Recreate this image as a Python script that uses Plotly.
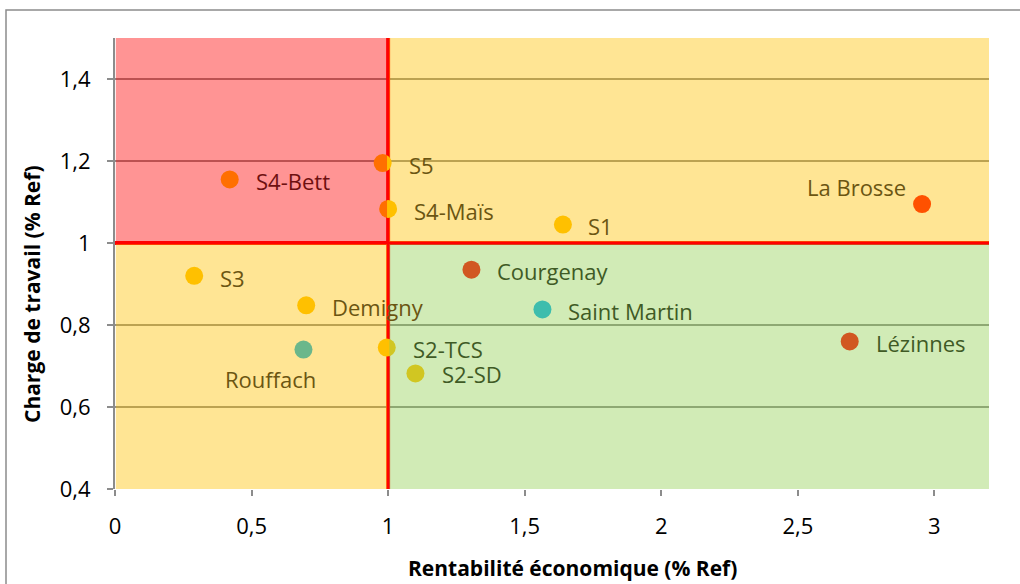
import plotly.graph_objects as go

# ---- data ----
names = ["S4-Bett", "S5", "S4-Maïs", "S1", "La Brosse", "S3", "Courgenay",
         "Demigny", "Saint Martin", "Rouffach", "S2-TCS", "S2-SD", "Lézinnes"]
rentabilite = [0.42, 0.98, 1.00, 1.64, 2.955, 0.29, 1.305,
               0.70, 1.565, 0.69, 0.995, 1.10, 2.69]
charge = [1.155, 1.195, 1.083, 1.045, 1.095, 0.92, 0.935,
          0.848, 0.838, 0.74, 0.745, 0.682, 0.76]
point_colors = ["#FFC000", "#FFC000", "#FFC000", "#FFC000", "#FF0000", "#FFC000", "#FF0000",
                "#FFC000", "#00B0F0", "#00B0F0", "#FFC000", "#FFC000", "#FF0000"]
# label placement (pixel offsets from marker centre)
label_anchor = ["left", "left", "left", "left", "right", "left", "left",
                "left", "left", "center", "left", "left", "left"]
label_dx = [24, 24, 24, 23, -14, 24, 24, 24, 24, -33, 24, 25, 24]
label_dy = [-2, -2, -2, -1, 17, -2, -1, -2, -2, -29, -1, -1, -2]

x_ticks = [0, 0.5, 1, 1.5, 2, 2.5, 3]
y_ticks = [0.4, 0.6, 0.8, 1, 1.2, 1.4]
x_range = [0, 3.2]
y_range = [0.4, 1.5]
seuil = 1.0

FONT = "Open Sans"

fig = go.Figure()
fig.add_trace(go.Scatter(
    x=rentabilite, y=charge, mode="markers",
    marker=dict(size=18, color=point_colors, line=dict(width=0)),
    hoverinfo="text", text=names, showlegend=False,
))

# overlay quadrants (drawn above the points, semi-transparent)
g = 0.004
quads = [
    (x_range[0] + 0.003, seuil - g, seuil + g * 0.75, y_range[1], "rgb(255,0,0)"),
    (seuil + g, x_range[1], seuil + g * 0.75, y_range[1], "rgb(255,192,0)"),
    (x_range[0] + 0.003, seuil - g, y_range[0], seuil - g * 0.75, "rgb(255,192,0)"),
    (seuil + g, x_range[1], y_range[0], seuil - g * 0.75, "rgb(146,208,80)"),
]
shapes = []
# red threshold lines (below points)
shapes.append(dict(type="line", xref="x", yref="y", x0=seuil, x1=seuil,
                   y0=y_range[0], y1=y_range[1], layer="between",
                   line=dict(color="#FF0000", width=4)))
shapes.append(dict(type="line", xref="x", yref="y", x0=x_range[0], x1=x_range[1],
                   y0=seuil, y1=seuil, layer="between",
                   line=dict(color="#FF0000", width=4)))
for x0, x1, y0, y1, c in quads:
    shapes.append(dict(type="rect", xref="x", yref="y", x0=x0, x1=x1, y0=y0, y1=y1,
                       fillcolor=c, opacity=0.42, line=dict(width=0), layer="above"))
# outer chart border
px0, px1, py0, py1 = 115, 989, 38, 489
def pxx(p):
    return (p - px0) / (px1 - px0)
def pyy(p):
    return (py1 - p) / (py1 - py0)
shapes.append(dict(type="rect", xref="paper", yref="paper",
                   x0=pxx(6), x1=pxx(1040), y0=pyy(620), y1=pyy(10),
                   line=dict(color="#8C8C8C", width=1.5), fillcolor="rgba(0,0,0,0)",
                   layer="below"))

def label_color(xv, yv):
    if xv < seuil and yv > seuil:
        return "#6E1010"
    if xv >= seuil and yv <= seuil:
        return "#3F5A25"
    return "#6B5512"

annotations = []
for n, xv, yv, a, dx, dy in zip(names, rentabilite, charge, label_anchor, label_dx, label_dy):
    col = label_color(xv + (0.1 if a == "left" else 0), yv)
    annotations.append(dict(x=xv, y=yv, xref="x", yref="y", text=n, showarrow=False,
                            xanchor=a, yanchor="middle", xshift=dx, yshift=dy,
                            font=dict(family=FONT, size=22, color=col)))
annotations.append(dict(text="<b>Rentabilité économique (% Ref)</b>", xref="paper", yref="paper",
                        x=pxx(572), y=pyy(568), showarrow=False, xanchor="center", yanchor="middle",
                        font=dict(family=FONT, size=21, color="#000000")))
annotations.append(dict(text="<b>Charge de travail (% Ref)</b>", xref="paper", yref="paper",
                        x=pxx(32), y=pyy(294), showarrow=False, xanchor="center", yanchor="middle",
                        textangle=-90, font=dict(family=FONT, size=21, color="#000000")))

fig.update_layout(
    width=1020, height=584,
    margin=dict(l=px0, r=1020 - px1, t=py0, b=584 - py1),
    paper_bgcolor="white", plot_bgcolor="white",
    separators=", ",
    shapes=shapes, annotations=annotations,
    font=dict(family=FONT, color="#000000"),
)
fig.update_xaxes(range=x_range, tickvals=x_ticks, showgrid=False, zeroline=False,
                 showline=False, ticks="outside", ticklen=6, tickwidth=1.5, tickcolor="#8C8C8C",
                 tickfont=dict(family=FONT, size=22, color="#000000"), ticklabelstandoff=12)
fig.update_yaxes(range=y_range, tickvals=y_ticks, showgrid=True, gridcolor="#8C8C8C", gridwidth=2,
                 zeroline=False, showline=True, linecolor="#8C8C8C", linewidth=2,
                 ticks="outside", ticklen=6, tickwidth=1.5, tickcolor="#8C8C8C",
                 tickfont=dict(family=FONT, size=22, color="#000000"), ticklabelstandoff=12)

fig.write_html("out.html", config={"displayModeBar": False},
               post_script="document.body.style.margin='0';document.body.style.overflow='hidden';")
